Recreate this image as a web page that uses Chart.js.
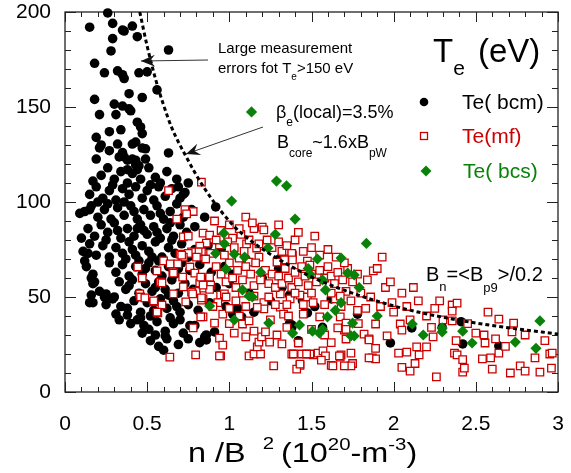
<!DOCTYPE html>
<html>
<head>
<meta charset="utf-8">
<script src="https://cdn.jsdelivr.net/npm/chart.js@4.4.0/dist/chart.umd.min.js"></script>
<style>
  html, body { margin: 0; padding: 0; background: #fff; }
  #wrap { width: 571px; height: 473px; }
</style>
</head>
<body>
<div id="wrap"><canvas id="teChart" width="571" height="473"></canvas></div>
<script>
// n/B^2 (x) against Te in eV (y), three diagnostics
var bcm = [
  [0.26,199.5],[0.15,192],[0.29,194],[0.35,190.5],[0.36,190],[0.41,192.6],[0.44,187],[0.29,186],[0.28,179.5],[0.63,180],
  [0.18,173],[0.24,168],[0.32,169],[0.35,167],[0.36,165],[0.45,168],[0.50,168.5],[0.56,159],[0.39,157],[0.47,155],
  [0.18,154],[0.30,151.5],[0.35,150.5],[0.39,149],[0.40,148],[0.21,146],[0.31,146],[0.44,142],[0.46,139.5],[0.47,136],
  [0.27,137],[0.34,138],[0.19,134],[0.22,130],[0.21,128.5],[0.32,130.5],[0.41,130.5],[0.43,131.5],[0.47,128.4],[0.49,128],
  [0.63,125.8],[0.27,127],[0.35,126],[0.36,123.7],[0.41,122.6],[0.43,122],[0.19,122.6],[0.49,122.6],[0.33,123.7],[0.38,122],
  [0.43,119.5],[0.44,117],[0.38,117],[0.75,110],[0.69,108],[0.72,104],
  [0.22,114],[0.26,118],[0.30,112],[0.34,116],[0.38,110],[0.41,115],[0.46,112],[0.51,118],[0.55,113],[0.58,110],
  [0.62,116],[0.68,112],[0.17,111],[0.45,119],
  [0.15,104],[0.19,108],[0.23,102],[0.27,106],[0.31,101],[0.35,107],[0.39,104],[0.43,108],[0.47,102],[0.50,106],
  [0.54,101],[0.57,108],[0.61,103],[0.65,107],[0.70,102],[0.73,105],[0.20,100],[0.36,100],[0.52,109],[0.29,109],
  [0.12,95],[0.16,98],[0.20,92],[0.24,96],[0.28,91],[0.32,97],[0.36,93],[0.40,98],[0.44,91],[0.48,96],
  [0.52,93],[0.56,98],[0.60,91],[0.64,95],[0.68,99],[0.72,92],[0.77,96],[0.85,92],[0.917,97.4],[0.26,99],
  [0.42,95],[0.58,94],[0.09,94],[0.15,96],
  [0.14,86],[0.18,82],[0.22,88],[0.26,84],[0.30,89],[0.34,81],[0.38,86],[0.42,82],[0.46,88],[0.50,83],
  [0.54,87],[0.58,81],[0.62,86],[0.66,82],[0.70,88],[0.74,84],[0.79,87],[0.10,81],[0.32,85],[0.48,85],
  [0.64,89],[0.56,84],[0.44,86],
  [0.11,74],[0.15,78],[0.19,72],[0.23,77],[0.27,71],[0.31,76],[0.35,73],[0.39,79],[0.43,72],[0.47,77],
  [0.51,74],[0.55,79],[0.59,71],[0.63,76],[0.67,73],[0.71,78],[0.75,71],[0.79,75],[0.87,77],[0.41,75],
  [0.53,71],[0.25,80],[0.65,80],[0.37,70],[0.14,73],
  [0.13,66],[0.17,62],[0.27,68],[0.31,63],[0.35,67],[0.39,61],[0.43,66],[0.47,62],[0.51,68],[0.55,64],
  [0.59,61],[0.63,66],[0.67,62],[0.71,68],[0.76,64],[0.82,67],[0.89,63],[0.97,66],[0.12,69],[0.49,65],
  [0.57,69],[0.45,69],[0.69,65],[0.16,60],[0.18,58],
  [0.17,57],[0.21,53],[0.33,58],[0.37,54],[0.41,59],[0.45,52],[0.49,57],[0.53,53],[0.57,58],[0.61,54],
  [0.65,59],[0.69,52],[0.73,57],[0.78,54],[0.86,59],[0.92,55],[1.00,57],[0.16,51],[0.24,50],[0.39,56],
  [0.55,55],[0.63,51],[0.25,51.6],[0.30,50],
  [0.15,47],[0.25,46],[0.29,49],[0.38,44],[0.42,48],[0.46,42],[0.50,47],[0.54,43],[0.58,49],[0.62,44],
  [0.66,48],[0.70,42],[0.75,46],[0.81,43],[0.88,47],[0.98,45],[1.05,44],[0.31,41],[0.52,40],[0.68,45],
  [0.34,45],[0.38,40.5],[0.17,47],
  [0.33,38],[0.40,36],[0.46,39],[0.51,33],[0.56,37],[0.61,32],[0.66,36],[0.72,31],[0.79,35],[0.86,30],
  [0.91,31.6],[1.02,41],[1.075,39.5],[0.55,30],[0.64,39],[0.48,35],[0.70,38],[0.47,31],[0.44,38],[0.76,35],
  [0.52,27],[0.57,24],[0.62,28],[0.69,25],[0.75,28],[0.82,26],[0.86,27.4],[0.60,22],[0.61,29.5],[0.85,29],
  [1.305,70],[1.32,55],[1.366,51],[1.445,48],[1.475,41.6],[1.366,36],[1.38,34],[1.42,27],[1.567,34],[1.62,49],
  [1.78,41],[1.71,35],[1.98,25.8],[2.11,33.7],[2.295,34],[2.41,37],[2.42,25.3],[2.64,24.2],[1.30,65],[1.305,55],
  [1.05,44],[1.38,51.6],[1.46,42],[1.38,35.3],[1.12,52],[1.20,60],[1.10,70],[0.95,75],[1.02,62],[1.15,42],
  [1.25,48],[1.52,45]
];

var mf = [
  [1.71,53],[1.83,44],[1.99,47],[1.70,32.6],[1.785,36],[1.82,30.5],[1.85,28],[1.68,19.5],[1.74,20.5],[1.75,15],
  [1.74,13.7],[1.89,23],[1.87,18],[1.89,17.4],[1.96,29.5],[2.04,35.8],[2.05,32.6],[2.03,20.5],[2.08,21],[2.05,13],
  [2.10,11],[2.14,23.7],[2.155,19.5],[2.13,15],[2.10,38],[2.20,23.7],[2.23,34],[2.24,29],[2.26,8],[2.356,37.4],
  [2.38,27],[2.356,45.8],[2.386,46.8],[2.37,20.5],[2.386,19.5],[2.42,17],[2.42,10.5],[2.43,12.6],[2.55,30],[2.556,25.8],
  [2.574,42],[2.64,38.4],[2.54,17.4],[2.59,18],[2.60,12],[2.64,20.5],[2.73,36.3],[2.72,31.6],[2.71,10],[2.77,13.7],
  [2.80,11],[2.89,10.5],[2.95,20],[2.965,20.5],[2.96,12.6],[1.93,71],[1.876,63.7],[1.84,59],[1.89,35.8],[1.675,39.5],
  [1.66,33.7],[1.85,27.4],[2.356,42.6],[1.51,19.5],[1.49,20],[1.44,20],[1.38,20],[1.43,14],[1.41,12],[1.62,14],
  [1.675,18.4],[1.85,18],[1.336,74],[1.384,72],
  [0.947,51],[0.97,51.6],[0.84,49],[0.93,47],[0.84,39.5],[0.91,36.3],[0.96,41],[1.06,40],[1.08,35.8],[1.12,37.4],
  [1.03,31],[0.94,28.4],[0.96,24.7],[0.947,19],[1.12,19],[1.15,20],[1.19,20],[1.17,23.7],[1.18,26.3],[1.196,29],
  [1.22,31.6],[1.245,26.3],[1.29,30],[1.32,25.3],[1.42,25.8],[1.27,13.7],[1.43,14.7],[1.47,20],[1.54,20.5],
  [1.57,21.6],[1.585,19],[1.56,16.8],[1.63,13.7],[1.67,19],[1.70,13.7],[1.31,44.7],[1.33,41],[1.45,41],[1.43,51],
  [1.475,50],[1.51,47],[1.31,51.6],[1.37,49],[1.21,47],[1.21,43.7],[1.15,50.5],[1.17,44.5],[1.645,49],[1.675,50.5],
  [1.71,36.3],[1.71,33],[1.71,27.9],[1.55,39.5],
  [0.83,110.5],[0.91,90],[1.20,86.8],[1.21,85.3],[1.07,83],[1.105,78],[1.32,74],[1.38,73],[1.384,69.5],[1.475,68.9],
  [1.49,66.8],[1.336,69.5],[1.29,68.4],[1.166,75.8],[1.18,71],[1.12,68.4],[1.06,70.5],[1.02,81],[0.99,79],[0.84,83.6],
  [0.88,82.6],[0.86,78.4],[0.94,77.4],
  [0.63,106],[0.73,96],[0.78,95],[0.74,93.7],[0.68,91],[0.72,81.6],[0.75,82],[0.82,76.8],[0.83,73.7],[0.81,73.7],
  [0.77,73.7],[0.75,73],[0.70,72.6],[0.72,71],[0.60,69],[0.64,67.4],[0.686,67.4],[0.56,63.7],[0.656,63.2],[0.443,65.8],
  [0.47,60],[0.58,57.9],[0.72,55.3],[0.82,57.4],[0.80,53],[0.77,52.6],[0.844,54.7],[0.886,56.3],[0.88,54],[0.716,60.5],
  [0.455,51.6],[0.46,50],[0.486,49.5],[0.54,47.4],[0.59,45.8],[0.565,41.6],[0.66,51.6],[0.735,47.4],[0.777,51.6],[0.83,48.4],
  [0.826,39.5],[0.78,33.7],[0.638,18.4],[0.795,19.5],[0.59,57.4],[0.54,48],[0.56,42],[0.66,62.6],[0.71,72],[0.80,71],
  [0.886,73],[0.856,70],[0.76,65.8],[0.79,62.6],[0.826,60.5],[0.88,60.5],[0.84,56.3],[0.83,49.5],[0.94,19],[1.39,20],
  [0.92,66],[0.95,62],[0.98,58],[1.00,68],[1.02,60],[1.04,55],[1.05,64],[1.08,59],[1.10,66],[1.13,62],
  [1.15,56],[1.16,68],[1.19,59],[1.22,64],[1.24,57],[1.26,62],[1.28,55],[1.30,61],[1.32,57],[1.34,65],
  [1.36,60],[1.38,55],[1.40,63],[1.42,58],[1.44,66],[1.46,61],[1.48,56],[1.50,62],[1.53,58],[1.55,64],
  [1.58,60],[1.60,66],[1.62,61],[1.64,57],[1.66,63],[1.69,59],[1.72,65],[1.75,58],[1.78,62],[1.80,52],
  [0.92,80],[0.95,85],[0.97,72],[1.00,88],[1.03,76],[1.06,86],[1.09,74],[1.12,80],[1.15,86],[1.18,78],
  [1.23,80],[1.26,76],[1.30,79],[1.35,77],[1.40,80],[1.45,74],[1.50,76],[1.55,72],[1.60,75],[1.65,71],
  [1.70,68],[1.30,88],[1.10,92],[1.42,84],[1.52,82],[1.14,89],
  [0.90,45],[0.98,50],[1.00,44],[1.04,48],[1.08,52],[1.10,45],[1.24,50],[1.28,46],[1.35,46],[1.40,52],
  [1.45,46],[1.50,52],[1.58,46],[1.62,52],[1.68,45],[1.74,48],[1.78,43],[1.86,50],[1.92,45],[1.95,55],
  [2.00,42],[2.08,45],[2.15,48],[2.20,40],[2.25,44],[2.30,38],[1.90,65],[1.98,58],[2.05,52],[2.12,55],
  [2.28,48],[2.45,36],[2.50,31],[2.62,28],[2.68,24],[2.80,30],[2.86,18],[2.92,27],[1.25,38],[1.35,34],
  [1.50,33],[1.58,30],[1.62,26],[1.00,36],[1.10,29],[1.36,40],[1.15,32]
];

var bcs = [
  [1.135,147.4],[1.287,111],[1.348,108.5],[1.014,100.5],[1.40,91],[1.28,83],[0.966,83.6],[0.97,78],[1.235,75.8],[0.917,73],
  [1.03,72.6],[1.093,71],[1.536,70],[1.68,70.5],[1.48,65],[1.49,62],[0.98,64.7],[1.19,63],[1.567,59],[1.72,62.6],
  [1.76,61.6],[1.08,53.7],[1.585,53.7],[1.12,50.5],[1.14,50],[0.88,45.3],[1.03,37.9],[1.24,36.3],[1.427,35.3],[1.385,31],
  [1.506,32],[1.548,31],[1.567,33],[1.597,39.5],[1.645,43],[1.68,47],[1.834,78.2],[1.79,55],[1.90,40],[1.75,36.3],
  [1.76,29.5],[1.74,29.5],[2.113,35.8],[2.18,30],[2.295,33.7],[2.295,31.6],[2.42,32],[2.477,25.8],[2.74,26.3],[2.866,23],
  [2.89,37.4]
];

// dotted limit curve B_n = <B_p9>/0.2
var curveX = [0.455, 0.5, 0.55, 0.6, 0.65, 0.73, 0.85, 1.02, 1.14, 1.41, 1.61, 2.0, 2.32, 2.6, 3.0];
var curveY = [200, 182, 165, 151, 139, 125, 107, 88, 79, 64.5, 56.5, 45.3, 39, 35, 30.5];

var FONT = "'Liberation Sans', Arial, Helvetica, sans-serif";
var RED = '#cc0000';
var GREEN = '#0a820a';

function toPts(arr) {
  return arr.map(function (p) { return { x: p[0], y: p[1] }; });
}

// text runs with sub/superscripts: [text, size, rise]
function drawPieces(ctx, x, y, pieces) {
  pieces.forEach(function (p) {
    ctx.font = p[1] + 'px ' + FONT;
    ctx.fillText(p[0], x, y - p[2]);
    x += ctx.measureText(p[0]).width;
  });
}

// axis title runs, stretched a little horizontally
function wideRuns(ctx, x, y, runs) {
  var sx = 1.2;
  runs.forEach(function (r) {
    x += r[3] || 0;
    ctx.save();
    ctx.translate(x, y - r[2]);
    ctx.scale(sx, 1);
    ctx.font = r[1] + 'px ' + FONT;
    ctx.fillText(r[0], 0, 0);
    x += ctx.measureText(r[0]).width * sx;
    ctx.restore();
  });
}

function arrow(ctx, x1, y1, x2, y2) {
  var ang = Math.atan2(y2 - y1, x2 - x1);
  ctx.beginPath();
  ctx.moveTo(x1, y1);
  ctx.lineTo(x2, y2);
  ctx.lineWidth = 1;
  ctx.stroke();
  ctx.save();
  ctx.translate(x2, y2);
  ctx.rotate(ang);
  ctx.beginPath();
  ctx.moveTo(0, 0);
  ctx.lineTo(-14, -6);
  ctx.lineTo(-9, 0);
  ctx.lineTo(-14, 6);
  ctx.closePath();
  ctx.fill();
  ctx.restore();
}

var frameTicks = {
  id: 'frameTicks',
  beforeDatasetsDraw: function (chart) {
    var ctx = chart.ctx, a = chart.chartArea;
    var xs = chart.scales.x, ys = chart.scales.y;
    ctx.save();
    ctx.strokeStyle = '#222';
    ctx.lineWidth = 1.3;
    ctx.strokeRect(a.left, a.top, a.right - a.left, a.bottom - a.top);
    ctx.beginPath();
    for (var i = 0; i <= 30; i++) {
      var px = Math.round(xs.getPixelForValue(i / 10)) + 0.5;
      var len = i % 5 === 0 ? 10 : 5;
      ctx.moveTo(px, a.bottom); ctx.lineTo(px, a.bottom - len);
      ctx.moveTo(px, a.top); ctx.lineTo(px, a.top + len);
    }
    for (var v = 0; v <= 200; v += 10) {
      var py = Math.round(ys.getPixelForValue(v)) + 0.5;
      var l2 = v % 50 === 0 ? 11 : 6;
      ctx.moveTo(a.left, py); ctx.lineTo(a.left + l2, py);
      ctx.moveTo(a.right, py); ctx.lineTo(a.right - l2, py);
    }
    ctx.lineWidth = 1;
    ctx.stroke();
    ctx.restore();
  },
  afterDraw: function (chart) {
    var ctx = chart.ctx;
    ctx.save();
    ctx.fillStyle = '#000';
    ctx.strokeStyle = '#000';
    ctx.textBaseline = 'alphabetic';
    ctx.textAlign = 'left';

    // axis title: n /B^2 (10^20-m^-3)
    wideRuns(ctx, 188, 462, [
      ['n /B', 27, 0],
      ['2', 17, 13, 17],
      ['(10', 27, 0, 7],
      ['20', 17, 12],
      ['-m', 27, 0],
      ['-3', 17, 12],
      [')', 27, 0]
    ]);

    // legend
    drawPieces(ctx, 433, 62, [['T', 33, 0], ['e', 21, -13]]);
    ctx.font = '33px ' + FONT;
    ctx.fillText('(eV)', 478, 62);

    ctx.beginPath();
    ctx.arc(424, 102, 4.3, 0, Math.PI * 2);
    ctx.fill();
    ctx.strokeStyle = RED;
    ctx.lineWidth = 1.3;
    ctx.strokeRect(420.5, 132.5, 7, 7);
    ctx.fillStyle = GREEN;
    ctx.beginPath();
    ctx.moveTo(426, 165.5); ctx.lineTo(431.5, 171); ctx.lineTo(426, 176.5); ctx.lineTo(420.5, 171);
    ctx.closePath();
    ctx.fill();

    ctx.font = '21px ' + FONT;
    ctx.fillStyle = '#000';
    ctx.fillText('Te( bcm)', 462, 109);
    ctx.fillStyle = RED;
    ctx.fillText('Te(mf)', 462, 143);
    ctx.fillStyle = GREEN;
    ctx.fillText('Te( bcs)', 463, 178);

    // notes and arrows
    ctx.fillStyle = '#000';
    drawPieces(ctx, 218, 53, [['Large measurement', 15, 0]]);
    drawPieces(ctx, 218, 73, [['errors fot T', 15, 0], ['e', 10, -7], ['>150 eV', 15, 0]]);
    drawPieces(ctx, 276, 118, [['\u03B2', 18, 0], ['e', 12, -8], ['(local)=3.5%', 18, 0]]);
    drawPieces(ctx, 277, 148, [['B', 18, 0], ['core', 12, -9], ['~1.6xB', 18, 0], ['pW', 12, -9]]);
    drawPieces(ctx, 426, 281, [['B', 20, 0], ['n', 13, -10], ['=<B', 20, 0], ['p9', 13, -11], ['>/0.2', 20, 0]]);

    ctx.strokeStyle = '#333';
    ctx.fillStyle = '#111';
    arrow(ctx, 208, 60, 141, 61);
    arrow(ctx, 263, 127, 186, 154);
    ctx.restore();
  }
};

new Chart(document.getElementById('teChart').getContext('2d'), {
  type: 'scatter',
  data: {
    datasets: [
      {
        type: 'line',
        label: 'limit',
        data: curveX.map(function (x, i) { return { x: x, y: curveY[i] }; }),
        borderColor: '#000',
        borderWidth: 3,
        borderDash: [4, 3],
        pointRadius: 0,
        fill: false,
        cubicInterpolationMode: 'monotone'
      },
      {
        label: 'Te( bcs)',
        data: toPts(bcs),
        pointStyle: 'rectRot',
        pointRadius: 5.6,
        backgroundColor: GREEN,
        borderWidth: 0,
        clip: false
      },
      {
        label: 'Te(mf)',
        data: toPts(mf),
        pointStyle: 'rect',
        pointRadius: 5.3,
        backgroundColor: '#fff',
        borderColor: RED,
        borderWidth: 1.3,
        clip: false
      },
      {
        label: 'Te( bcm)',
        data: toPts(bcm),
        pointStyle: 'circle',
        pointRadius: 4.8,
        backgroundColor: '#000',
        borderWidth: 0,
        clip: false
      }
    ]
  },
  options: {
    responsive: false,
    animation: false,
    devicePixelRatio: 1,
    layout: { padding: { left: 0, right: 13, top: 12, bottom: 0 } },
    scales: {
      x: {
        type: 'linear',
        min: 0,
        max: 3,
        afterFit: function (s) {
          s.height = 81;
          s.paddingLeft = 0;
          s.paddingRight = 0;
        },
        grid: { display: false, drawTicks: false },
        border: { display: false },
        ticks: {
          stepSize: 0.5,
          padding: 20,
          color: '#000',
          font: { family: FONT, size: 21 },
          callback: function (v) { return String(v); }
        }
      },
      y: {
        min: 0,
        max: 200,
        afterFit: function (s) {
          s.width = 65;
          s.paddingTop = 0;
          s.paddingBottom = 0;
        },
        grid: { display: false, drawTicks: false },
        border: { display: false },
        ticks: {
          stepSize: 50,
          padding: 14,
          color: '#000',
          font: { family: FONT, size: 21 }
        }
      }
    },
    plugins: {
      legend: { display: false },
      tooltip: { enabled: false }
    }
  },
  plugins: [frameTicks]
});
</script>
</body>
</html>
